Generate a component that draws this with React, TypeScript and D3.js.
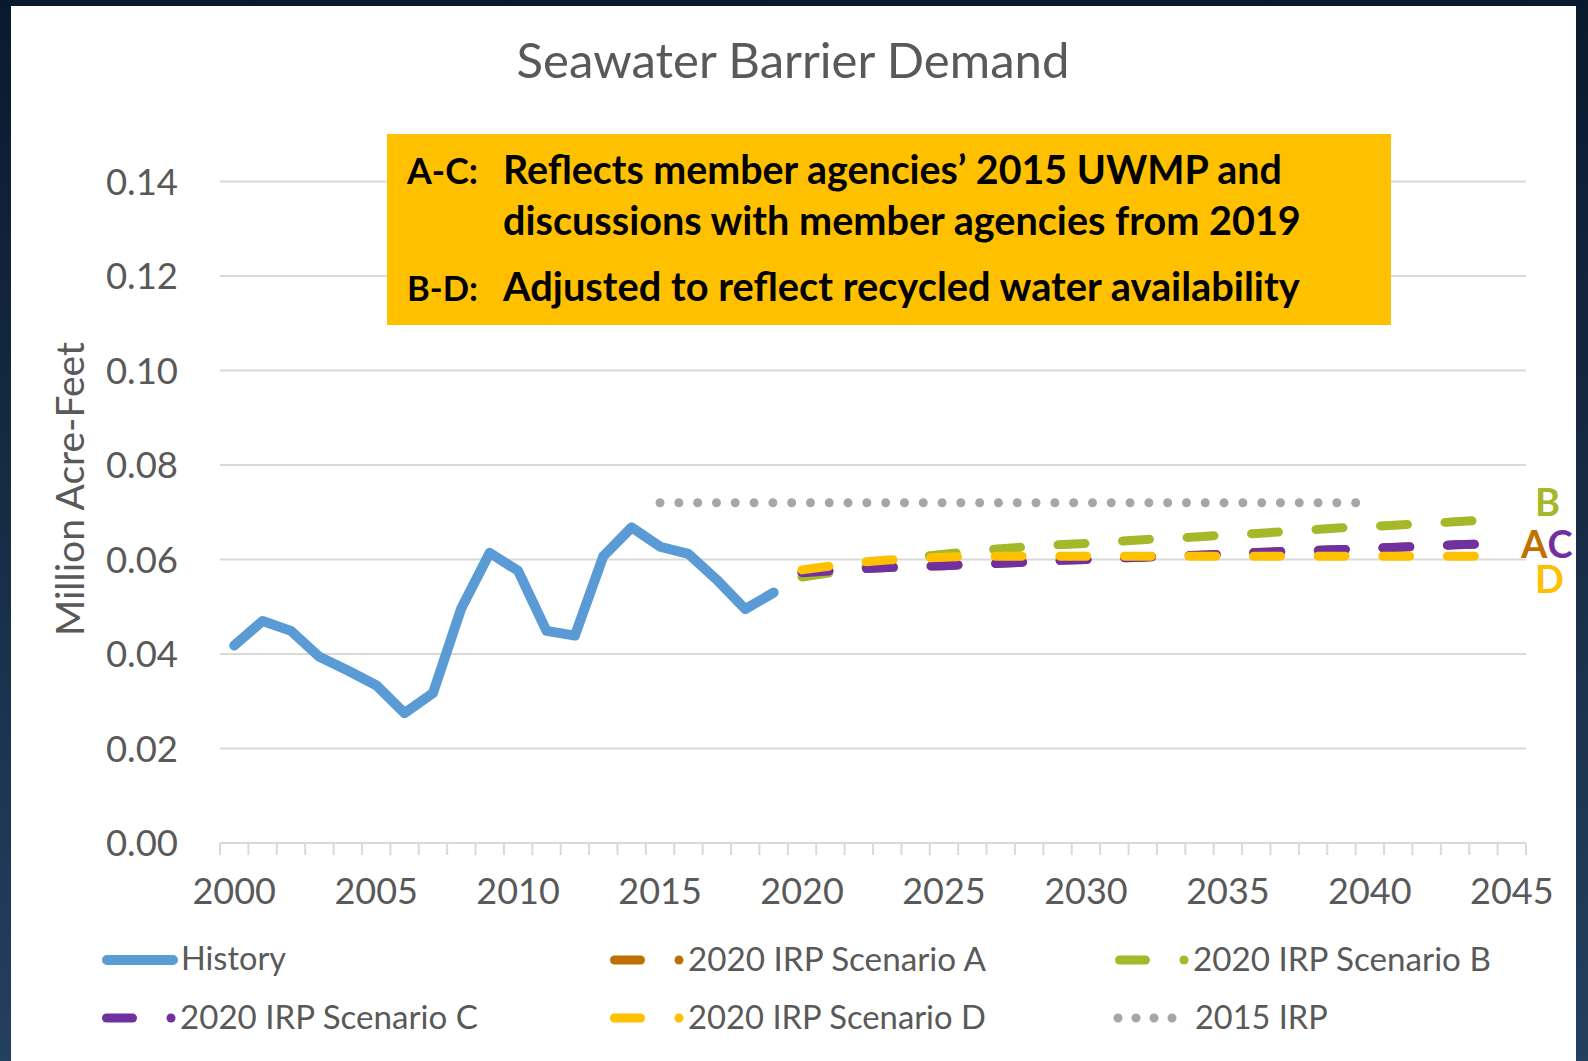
import { useEffect, useRef } from 'react';
import * as d3 from 'd3';

const W = 1588;
const H = 1061;

// categories on the x axis
const firstYear = 2000;
const lastYear = 2045;
const tickLabels = ['2000', '2005', '2010', '2015', '2020', '2025', '2030', '2035', '2040', '2045'];
const yTicks = [0, 0.02, 0.04, 0.06, 0.08, 0.1, 0.12, 0.14];

// History, 2000-2019
const historyStart = 2000;
const historyValues = [
  0.0418, 0.047, 0.0449, 0.0394, 0.0365, 0.0334, 0.0275, 0.0317, 0.0497, 0.0614,
  0.0576, 0.0449, 0.0439, 0.0607, 0.0668, 0.0627, 0.0612, 0.0557, 0.0495, 0.053,
];

// 2020 IRP scenarios, 2020-2044
const scenarioStart = 2020;
const scenarioA = [
  0.0572, 0.0576, 0.058, 0.0583, 0.0585, 0.0587, 0.059, 0.0592, 0.0595, 0.0598,
  0.06, 0.0603, 0.0605, 0.0607, 0.0609, 0.0612, 0.0615, 0.0617, 0.0619, 0.0621,
  0.0624, 0.0626, 0.0628, 0.0631, 0.0633,
];
const scenarioB = [
  0.0563, 0.0572, 0.058, 0.0595, 0.0605, 0.0611, 0.0617, 0.0623, 0.0627, 0.0631,
  0.0634, 0.0638, 0.0642, 0.0645, 0.0648, 0.0652, 0.0655, 0.0659, 0.0663, 0.0667,
  0.067, 0.0673, 0.0676, 0.068, 0.0683,
];
const scenarioC = [
  0.0572, 0.0576, 0.058, 0.0583, 0.0585, 0.0587, 0.059, 0.0592, 0.0595, 0.0598,
  0.06, 0.0603, 0.0605, 0.0607, 0.0609, 0.0612, 0.0615, 0.0617, 0.0619, 0.0621,
  0.0624, 0.0626, 0.0628, 0.0631, 0.0633,
];
const scenarioD = [
  0.0578, 0.0586, 0.0594, 0.0599, 0.0602, 0.0605, 0.0607, 0.0607, 0.0607, 0.0607,
  0.0607, 0.0607, 0.0607, 0.0607, 0.0607, 0.0607, 0.0607, 0.0607, 0.0607, 0.0607,
  0.0607, 0.0607, 0.0607, 0.0607, 0.0607,
];

// 2015 IRP, 2015-2040
const irp2015Start = 2015;
const irp2015Values = [
  0.072, 0.072, 0.072, 0.072, 0.072, 0.072, 0.072, 0.072, 0.072, 0.072, 0.072, 0.072, 0.072,
  0.072, 0.072, 0.072, 0.072, 0.072, 0.072, 0.072, 0.072, 0.072, 0.072, 0.072, 0.072, 0.072,
];

const C_HIST = '#5B9BD5';
const C_A = '#BF7000';
const C_B = '#A5B829';
const C_C = '#7030A0';
const C_D = '#FFC000';
const C_IRP = '#A6A6A6';
const GREY_TEXT = '#595959';
const GRID = '#D9D9D9';
const FONT = 'Lato, "Open Sans", sans-serif';

const DASH = '27 37.6';
const DOT = '0 18.8';

export default function App() {
  const svgRef = useRef<SVGSVGElement>(null);

  useEffect(() => {
    const draw = () => {
      if (!svgRef.current) return;
      const svg = d3.select(svgRef.current);
      svg.selectAll('*').remove();

      // fit a text node to a width by scaling its font-size
      const fit = (sel: d3.Selection<SVGTextElement, unknown, null, undefined>, target: number) => {
        const node = sel.node();
        if (!node) return;
        const w = node.getComputedTextLength();
        const fs = parseFloat(sel.attr('font-size'));
        if (w > 0) sel.attr('font-size', (fs * target) / w);
      };

      // slide background
      const defs = svg.append('defs');
      const grad = defs.append('linearGradient').attr('id', 'bg').attr('x1', 0).attr('x2', 0).attr('y1', 0).attr('y2', 1);
      grad.append('stop').attr('offset', '0%').attr('stop-color', '#0A1A2E');
      grad.append('stop').attr('offset', '100%').attr('stop-color', '#24405F');
      svg.append('rect').attr('width', W).attr('height', H).attr('fill', 'url(#bg)');
      svg.append('rect').attr('x', 11).attr('y', 6).attr('width', 1565).attr('height', H - 6).attr('fill', '#FFFFFF');

      const x = d3.scaleBand<number>()
        .domain(d3.range(firstYear, lastYear + 1))
        .range([220, 1526])
        .paddingInner(0)
        .paddingOuter(0);
      const cx = (yr: number) => (x(yr) ?? 0) + x.bandwidth() / 2;
      const y = d3.scaleLinear().domain([0, 0.14]).range([843, 181.5]);

      // gridlines
      svg.append('g')
        .selectAll('line')
        .data(yTicks.filter(t => t > 0))
        .join('line')
        .attr('x1', 220)
        .attr('x2', 1526)
        .attr('y1', d => y(d))
        .attr('y2', d => y(d))
        .attr('stroke', GRID)
        .attr('stroke-width', 2);

      // x axis with a tick between every category
      const xAxis = svg.append('g');
      xAxis.append('line')
        .attr('x1', 220).attr('x2', 1526)
        .attr('y1', y(0)).attr('y2', y(0))
        .attr('stroke', GRID).attr('stroke-width', 2);
      const edges = [...x.domain().map(d => x(d) ?? 0), 1526];
      xAxis.selectAll('line.tick')
        .data(edges)
        .join('line')
        .attr('class', 'tick')
        .attr('x1', d => d).attr('x2', d => d)
        .attr('y1', y(0)).attr('y2', y(0) + 12)
        .attr('stroke', GRID).attr('stroke-width', 2);
      xAxis.selectAll('text')
        .data(tickLabels)
        .join('text')
        .attr('x', d => cx(+d))
        .attr('y', 904)
        .attr('text-anchor', 'middle')
        .attr('font-family', FONT)
        .attr('font-size', 36)
        .attr('fill', GREY_TEXT)
        .text(d => d);

      // y labels
      svg.append('g')
        .selectAll('text')
        .data(yTicks)
        .join('text')
        .attr('x', 178)
        .attr('y', d => y(d) + 13)
        .attr('text-anchor', 'end')
        .attr('font-family', FONT)
        .attr('font-size', 36.5)
        .attr('fill', GREY_TEXT)
        .text(d => d3.format('.2f')(d));

      const yTitle = svg.append('text')
        .attr('transform', 'translate(84,489) rotate(-90)')
        .attr('text-anchor', 'middle')
        .attr('font-family', FONT)
        .attr('font-size', 36)
        .attr('fill', GREY_TEXT)
        .text('Million Acre-Feet');
      fit(yTitle, 294);

      // title
      const title = svg.append('text')
        .attr('x', 793)
        .attr('y', 78)
        .attr('text-anchor', 'middle')
        .attr('font-family', FONT)
        .attr('font-size', 50)
        .attr('fill', GREY_TEXT)
        .text('Seawater Barrier Demand');
      fit(title, 553);

      // lines
      const line = (start: number) => d3.line<number>()
        .x((_, i) => cx(start + i))
        .y(d => y(d));

      const plot = svg.append('g').attr('fill', 'none').attr('stroke-linecap', 'round').attr('stroke-linejoin', 'round');
      plot.append('path')
        .attr('d', line(historyStart)(historyValues))
        .attr('stroke', C_HIST)
        .attr('stroke-width', 10);

      const scenarios: [number[], string][] = [
        [scenarioA, C_A],
        [scenarioB, C_B],
        [scenarioC, C_C],
        [scenarioD, C_D],
      ];
      scenarios.forEach(([vals, col]) => {
        plot.append('path')
          .attr('d', line(scenarioStart)(vals))
          .attr('stroke', col)
          .attr('stroke-width', 9)
          .attr('stroke-dasharray', DASH);
      });

      plot.append('path')
        .attr('d', line(irp2015Start)(irp2015Values))
        .attr('stroke', C_IRP)
        .attr('stroke-width', 9)
        .attr('stroke-dasharray', DOT);

      // end labels
      const endG = svg.append('g')
        .attr('font-family', FONT)
        .attr('font-weight', 700)
        .attr('font-size', 38);
      endG.append('text').attr('x', 1535).attr('y', 516).attr('fill', C_B).text('B');
      const ac = endG.append('text').attr('x', 1521).attr('y', 558);
      ac.append('tspan').attr('fill', C_A).text('A');
      ac.append('tspan').attr('fill', C_C).attr('dx', 1).text('C');
      endG.append('text').attr('x', 1535).attr('y', 593).attr('fill', C_D).text('D');

      // note box
      svg.append('rect')
        .attr('x', 387).attr('y', 134)
        .attr('width', 1004).attr('height', 191)
        .attr('fill', '#FFC000');
      const noteLines: [string, number, number, number][] = [
        ['A-C:', 407, 184, 71],
        ['Reflects member agencies\u2019 2015 UWMP and', 503, 184, 779],
        ['discussions with member agencies from 2019', 503, 235, 798],
        ['B-D:', 407, 301, 71],
        ['Adjusted to reflect recycled water availability', 503, 301, 797],
      ];
      noteLines.forEach(([t, tx, ty, tw]) => {
        const el = svg.append('text')
          .attr('x', tx).attr('y', ty)
          .attr('font-family', FONT)
          .attr('font-weight', 700)
          .attr('font-size', 36)
          .attr('fill', '#000000')
          .text(t);
        fit(el, tw);
      });

      // legend
      const leg = svg.append('g').attr('stroke-linecap', 'round');
      const legText = (t: string, tx: number, ty: number) =>
        leg.append('text')
          .attr('x', tx).attr('y', ty)
          .attr('font-family', FONT)
          .attr('font-size', 33)
          .attr('fill', GREY_TEXT)
          .text(t);

      leg.append('line').attr('x1', 107).attr('x2', 173).attr('y1', 960).attr('y2', 960)
        .attr('stroke', C_HIST).attr('stroke-width', 10);
      const hist = legText('History', 181, 970);
      fit(hist, 105);

      const dashItems: [string, string, number, number][] = [
        ['2020 IRP Scenario A', C_A, 610, 960],
        ['2020 IRP Scenario B', C_B, 1115, 960],
        ['2020 IRP Scenario C', C_C, 102, 1018],
        ['2020 IRP Scenario D', C_D, 610, 1018],
      ];
      dashItems.forEach(([t, col, lx, ly]) => {
        leg.append('line')
          .attr('x1', lx + 4.5).attr('x2', lx + 30.5)
          .attr('y1', ly).attr('y2', ly)
          .attr('stroke', col).attr('stroke-width', 9);
        leg.append('circle')
          .attr('cx', lx + 69).attr('cy', ly)
          .attr('r', 4.5)
          .attr('fill', col);
        const el = legText(t, lx + 78, ly + 11);
        fit(el, 298);
      });

      leg.append('line')
        .attr('x1', 1118).attr('x2', 1173)
        .attr('y1', 1018).attr('y2', 1018)
        .attr('stroke', C_IRP).attr('stroke-width', 9)
        .attr('stroke-dasharray', '0 18');
      legText('2015 IRP', 1195, 1029).attr('font-size', hist.attr('font-size'));
    };

    draw();
    if (document.fonts && document.fonts.ready) document.fonts.ready.then(draw);
  }, []);

  return (
    <svg
      ref={svgRef}
      width={W}
      height={H}
      style={{ position: 'absolute', left: 0, top: 0, display: 'block' }}
    />
  );
}
